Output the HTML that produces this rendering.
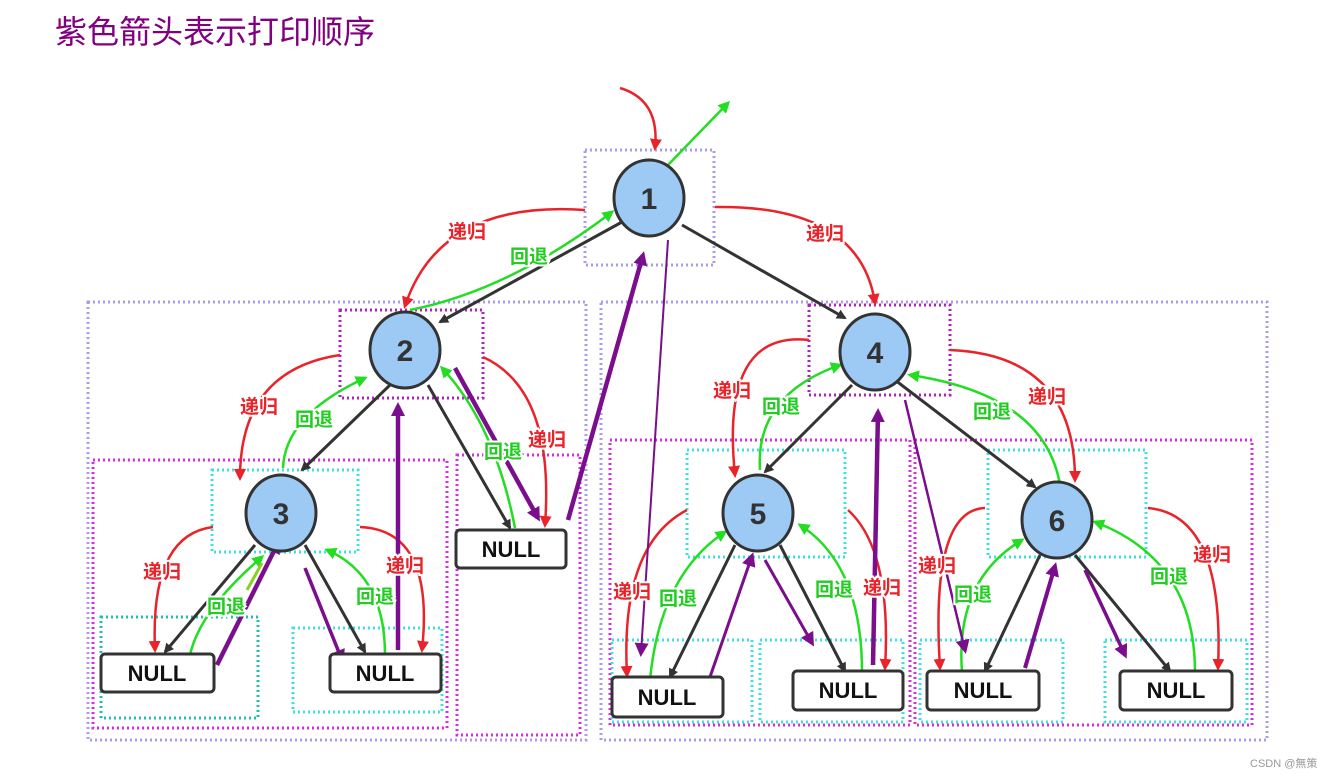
<!DOCTYPE html>
<html><head><meta charset="utf-8"><style>
html,body{margin:0;padding:0;background:#fff;}
svg{display:block;}
.t{font-family:"Liberation Sans","Noto Sans CJK SC",sans-serif;}
.r{fill:#e8242a;font-size:19px;font-weight:bold;paint-order:stroke;stroke:#fff;stroke-width:4px;}
.g{fill:#22cc22;font-size:19px;font-weight:bold;paint-order:stroke;stroke:#fff;stroke-width:4px;}
</style></head><body>
<svg width="1331" height="781" viewBox="0 0 1331 781" xmlns="http://www.w3.org/2000/svg">
<defs>
<marker id="mk" markerWidth="10" markerHeight="10" refX="8" refY="5" orient="auto" markerUnits="userSpaceOnUse"><path d="M0,0 L10,5 L0,10 z" fill="#333"/></marker>
<marker id="mr" markerWidth="12" markerHeight="12" refX="9" refY="6" orient="auto" markerUnits="userSpaceOnUse"><path d="M0,0 L12,6 L0,12 z" fill="#e8242a"/></marker>
<marker id="mg" markerWidth="12" markerHeight="12" refX="9" refY="6" orient="auto" markerUnits="userSpaceOnUse"><path d="M0,0 L12,6 L0,12 z" fill="#22dd22"/></marker>
<marker id="mp" markerWidth="14" markerHeight="14" refX="10" refY="7" orient="auto" markerUnits="userSpaceOnUse"><path d="M0,0 L14,7 L0,14 z" fill="#7a0e8c"/></marker>
</defs>
<text x="55" y="43" class="t" style="font-size:32px;fill:#800080">紫色箭头表示打印顺序</text>

<g fill="none" stroke-width="3" stroke-dasharray="2,3">
<rect x="88" y="302" width="498" height="438" stroke="#a89cf0"/>
<rect x="601" y="302" width="666" height="438" stroke="#a89cf0"/>
<rect x="585" y="150" width="129" height="115" stroke="#a89cf0"/>
<rect x="93" y="460" width="354" height="268" stroke="#d62ee0"/>
<rect x="457" y="455" width="123" height="280" stroke="#d62ee0"/>
<rect x="610" y="440" width="300" height="285" stroke="#d62ee0"/>
<rect x="915" y="440" width="337" height="285" stroke="#d62ee0"/>
<rect x="340" y="310" width="143" height="88" stroke="#b020c0"/>
<rect x="809" y="305" width="141" height="90" stroke="#b020c0"/>
<rect x="212" y="470" width="146" height="82" stroke="#3ee0e0"/>
<rect x="687" y="450" width="158" height="107" stroke="#3ee0e0"/>
<rect x="988" y="450" width="158" height="107" stroke="#3ee0e0"/>
<rect x="101" y="617" width="157" height="101" stroke="#20c0b0"/>
<rect x="293" y="628" width="149" height="84" stroke="#3ee0e0"/>
<rect x="612" y="640" width="140" height="82" stroke="#3ee0e0"/>
<rect x="760" y="640" width="143" height="82" stroke="#3ee0e0"/>
<rect x="920" y="640" width="143" height="82" stroke="#3ee0e0"/>
<rect x="1105" y="640" width="142" height="82" stroke="#3ee0e0"/>
</g>

<g stroke="#333" stroke-width="3" fill="none" marker-end="url(#mk)">
<line x1="622" y1="222" x2="440" y2="322"/>
<line x1="682" y1="225" x2="845" y2="318"/>
<line x1="390" y1="385" x2="302" y2="470"/>
<line x1="428" y1="385" x2="510" y2="528"/>
<line x1="255" y1="545" x2="165" y2="652"/>
<line x1="305" y1="545" x2="365" y2="652"/>
<line x1="852" y1="385" x2="765" y2="472"/>
<line x1="895" y1="380" x2="1035" y2="487"/>
<line x1="735" y1="545" x2="670" y2="677"/>
<line x1="780" y1="545" x2="845" y2="671"/>
<line x1="1040" y1="555" x2="985" y2="671"/>
<line x1="1075" y1="555" x2="1170" y2="671"/>
</g>

<g stroke="#e8242a" stroke-width="2.5" fill="none" marker-end="url(#mr)">
<path d="M620,88 Q660,100 655,148"/>
<path d="M585,210 Q440,200 405,306"/>
<path d="M715,207 Q860,205 875,303"/>
<path d="M340,355 Q240,370 240,478"/>
<path d="M483,357 Q555,390 545,525"/>
<path d="M213,527 Q150,535 155,650"/>
<path d="M360,527 Q435,530 422,650"/>
<path d="M809,340 Q720,330 735,475"/>
<path d="M950,350 Q1075,355 1075,480"/>
<path d="M687,510 Q620,545 627,675"/>
<path d="M848,510 Q892,550 885,668"/>
<path d="M985,508 Q930,510 940,668"/>
<path d="M1148,508 Q1225,515 1218,668"/>
</g>
<g stroke="#22dd22" stroke-width="2.5" fill="none" marker-end="url(#mg)">
<path d="M668,165 L728,103"/>
<path d="M410,310 Q510,290 612,212"/>
<path d="M283,468 Q285,415 365,378"/>
<path d="M190,655 Q200,610 262,557"/>
<path d="M385,655 Q385,575 327,550"/>
<path d="M515,528 Q495,425 442,368"/>
<path d="M760,470 Q755,395 840,365"/>
<path d="M1060,485 Q1045,395 910,375"/>
<path d="M650,680 Q660,575 725,532"/>
<path d="M862,672 Q862,565 800,525"/>
<path d="M962,672 Q955,580 1022,540"/>
<path d="M1195,672 Q1195,560 1095,522"/>
</g>

<g stroke="#7a0e8c" fill="none" marker-end="url(#mp)">
<line x1="455" y1="368" x2="538" y2="518" stroke-width="4.5"/>
<line x1="568" y1="520" x2="643" y2="255" stroke-width="4.5"/>
<line x1="668" y1="240" x2="641" y2="653" stroke-width="2"/>
<line x1="398" y1="650" x2="398" y2="406" stroke-width="4.5"/>
<line x1="217" y1="665" x2="278" y2="543" stroke-width="4.5"/>
<line x1="305" y1="568" x2="342" y2="660" stroke-width="3.5"/>
<line x1="710" y1="677" x2="752" y2="556" stroke-width="3"/>
<line x1="765" y1="560" x2="812" y2="643" stroke-width="3"/>
<line x1="873" y1="665" x2="878" y2="412" stroke-width="4.5"/>
<line x1="905" y1="400" x2="965" y2="650" stroke-width="2.5"/>
<line x1="1025" y1="668" x2="1055" y2="566" stroke-width="4"/>
<line x1="1085" y1="570" x2="1125" y2="655" stroke-width="3.5"/>
<line x1="262" y1="563" x2="247" y2="590" stroke="#8ad022" stroke-width="3" marker-end="none"/>
</g>

<g class="t">
<text x="448" y="238" class="r">递归</text>
<text x="806" y="240" class="r">递归</text>
<text x="240" y="413" class="r">递归</text>
<text x="528" y="446" class="r">递归</text>
<text x="143" y="578" class="r">递归</text>
<text x="386" y="572" class="r">递归</text>
<text x="713" y="397" class="r">递归</text>
<text x="1028" y="403" class="r">递归</text>
<text x="613" y="598" class="r">递归</text>
<text x="863" y="594" class="r">递归</text>
<text x="918" y="572" class="r">递归</text>
<text x="1193" y="561" class="r">递归</text>
<text x="510" y="263" class="g">回退</text>
<text x="295" y="426" class="g">回退</text>
<text x="207" y="613" class="g">回退</text>
<text x="356" y="603" class="g">回退</text>
<text x="484" y="458" class="g">回退</text>
<text x="762" y="413" class="g">回退</text>
<text x="973" y="418" class="g">回退</text>
<text x="659" y="605" class="g">回退</text>
<text x="815" y="596" class="g">回退</text>
<text x="954" y="601" class="g">回退</text>
<text x="1150" y="583" class="g">回退</text>
</g>

<g stroke="#333" stroke-width="3" fill="#9ccaf5">
<ellipse cx="649" cy="198" rx="35" ry="38"/>
<ellipse cx="405" cy="350" rx="35" ry="38"/>
<ellipse cx="281" cy="513" rx="35" ry="38"/>
<ellipse cx="875" cy="352" rx="35" ry="38"/>
<ellipse cx="758" cy="513" rx="35" ry="38"/>
<ellipse cx="1057" cy="520" rx="35" ry="38"/>
</g>
<g class="t" font-size="30" font-weight="bold" fill="#333" text-anchor="middle">
<text x="649" y="209">1</text>
<text x="405" y="361">2</text>
<text x="281" y="524">3</text>
<text x="875" y="363">4</text>
<text x="758" y="524">5</text>
<text x="1057" y="531">6</text>
</g>
<g stroke="#333" stroke-width="3" fill="#fff">
<rect x="101" y="654" width="113" height="38" rx="4"/>
<rect x="330" y="654" width="111" height="38" rx="4"/>
<rect x="456" y="530" width="110" height="38" rx="4"/>
<rect x="612" y="677" width="111" height="40" rx="4"/>
<rect x="793" y="671" width="110" height="39" rx="4"/>
<rect x="927" y="671" width="112" height="39" rx="4"/>
<rect x="1120" y="671" width="112" height="39" rx="4"/>
</g>
<g class="t" font-size="22" font-weight="bold" fill="#111" text-anchor="middle">
<text x="157" y="681">NULL</text>
<text x="385" y="681">NULL</text>
<text x="511" y="557">NULL</text>
<text x="667" y="705">NULL</text>
<text x="848" y="698">NULL</text>
<text x="983" y="698">NULL</text>
<text x="1176" y="698">NULL</text>
</g>
<text x="1250" y="767" class="t" style="font-size:11px;fill:#999">CSDN @無策</text>
</svg>
</body></html>
